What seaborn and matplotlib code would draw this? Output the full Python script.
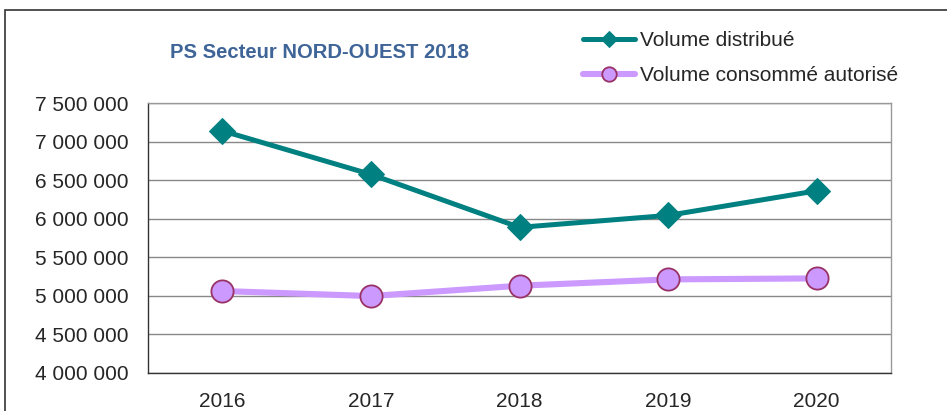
import pandas as pd
import matplotlib
matplotlib.use('Agg')
import matplotlib.pyplot as plt
import seaborn as sns
from matplotlib.patches import Rectangle
from matplotlib.ticker import FuncFormatter, FixedLocator

years = ['2016', '2017', '2018', '2019', '2020']
volume_distribue = [7141000, 6576000, 5889000, 6044000, 6363000]
volume_consomme = [5063000, 4998000, 5132000, 5214000, 5227000]

label_distribue = 'Volume distribué'
label_consomme = 'Volume consommé autorisé'
title = 'PS Secteur NORD-OUEST 2018'

sns.set_style('white')
plt.rcParams['font.family'] = ['Liberation Sans', 'DejaVu Sans']

df = pd.DataFrame({
    'Année': years * 2,
    'Volume': volume_distribue + volume_consomme,
    'Série': [label_distribue] * len(years) + [label_consomme] * len(years),
})

fig = plt.figure(figsize=(9.47, 4.11), dpi=100)
ax = fig.add_axes([0.1563, 0.0925, 0.7846, 0.6565])

teal = '#008080'
lilac = '#CC99FF'
plum = '#993366'

sns.lineplot(data=df[df['Série'] == label_distribue], x='Année', y='Volume',
             color=teal, linewidth=3.6, marker='D', markersize=13,
             markeredgecolor=teal, ax=ax, label=label_distribue, zorder=4)
sns.lineplot(data=df[df['Série'] == label_consomme], x='Année', y='Volume',
             color=lilac, linewidth=4.4, marker='o', markersize=16,
             markerfacecolor=lilac, markeredgecolor=plum, markeredgewidth=1.3,
             ax=ax, label=label_consomme, zorder=3)

ax.set_xlim(-0.5, len(years) - 0.5)
ax.set_ylim(4000000, 7500000)
ax.yaxis.set_major_locator(FixedLocator(range(4000000, 7500001, 500000)))
ax.yaxis.set_major_formatter(FuncFormatter(lambda v, p: f'{int(v):,}'.replace(',', ' ')))
ax.set_xticks(range(len(years)))
ax.set_xticklabels(years)
ax.set_xticks([i - 0.5 for i in range(len(years) + 1)], minor=True)
ax.tick_params(axis='x', which='major', length=0, labelsize=15, pad=14)
ax.tick_params(axis='x', which='minor', length=6, width=1, color='#333333', direction='out')
ax.tick_params(axis='y', length=5, width=1, color='#333333', direction='out', labelsize=15, pad=9)
ax.set_xlabel('')
ax.set_ylabel('')

ax.grid(axis='y', color='#888888', linewidth=1)
ax.set_axisbelow(True)
for side in ['left', 'bottom']:
    ax.spines[side].set_color('#333333')
    ax.spines[side].set_linewidth(1)
for side in ['top', 'right']:
    ax.spines[side].set_color('#999999')
    ax.spines[side].set_linewidth(1)

fig.text(0.337, 0.873, title, ha='center', va='center', fontsize=14.6,
         fontweight='bold', color='#3F6497')

leg = ax.legend(loc='upper left', bbox_to_anchor=(0.616, 0.925), bbox_transform=fig.transFigure,
                frameon=False, fontsize=15, handlelength=2.5, handletextpad=0.2,
                labelspacing=0.8, borderaxespad=0, borderpad=0, markerscale=0.65)

fig.patches.append(Rectangle((0.0053, -0.1), 1.2, 1.076, transform=fig.transFigure,
                             fill=False, edgecolor='#333333', linewidth=1.2))

fig.savefig('out.png', dpi=100)
